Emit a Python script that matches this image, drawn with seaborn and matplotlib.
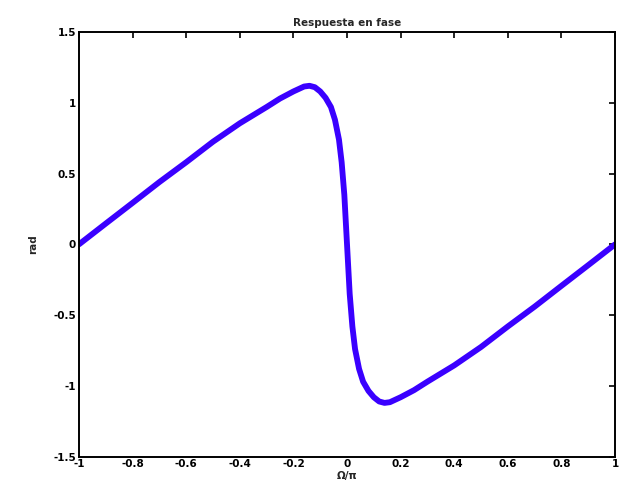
import matplotlib
matplotlib.use("Agg")
import matplotlib.pyplot as plt
import seaborn as sns
import pandas as pd

# Phase response samples, normalized frequency (Omega/pi) vs phase in rad
omega_norm = [-1.0, -0.9, -0.8, -0.7, -0.6, -0.5, -0.4, -0.3, -0.25, -0.2,
              -0.16, -0.14, -0.12, -0.1, -0.08, -0.06, -0.045, -0.03, -0.02,
              -0.01, 0.0, 0.01, 0.02, 0.03, 0.045, 0.06, 0.08, 0.1, 0.12,
              0.14, 0.16, 0.2, 0.25, 0.3, 0.4, 0.5, 0.6, 0.7, 0.8, 0.9, 1.0]
phase_rad = [0.0, 0.147, 0.293, 0.44, 0.58, 0.725, 0.855, 0.97, 1.03, 1.08,
             1.115, 1.12, 1.11, 1.08, 1.035, 0.97, 0.88, 0.74, 0.58,
             0.35, 0.0, -0.35, -0.58, -0.74, -0.88, -0.97, -1.035, -1.08, -1.11,
             -1.12, -1.115, -1.08, -1.03, -0.97, -0.855, -0.725, -0.58, -0.44,
             -0.293, -0.147, 0.0]

x_ticks = [-1, -0.8, -0.6, -0.4, -0.2, 0, 0.2, 0.4, 0.6, 0.8, 1]
y_ticks = [-1.5, -1, -0.5, 0, 0.5, 1, 1.5]

df = pd.DataFrame({"w": omega_norm, "phase": phase_rad})

sns.set_style("white")
plt.rcParams["font.family"] = ["DejaVu Sans"]

fig = plt.figure(figsize=(6.2, 5.0), dpi=100)
ax = fig.add_axes([0.1274, 0.0866, 0.8646, 0.8494])

sns.lineplot(data=df, x="w", y="phase", ax=ax, color="#3a00ff",
             linewidth=4.2, sort=False, solid_capstyle="round")

ax.set_xlim(-1, 1)
ax.set_ylim(-1.5, 1.5)
ax.set_xticks(x_ticks)
ax.set_yticks(y_ticks)
ax.set_xticklabels([f"{v:g}" for v in x_ticks])
ax.set_yticklabels([f"{v:g}" for v in y_ticks])

ax.tick_params(direction="in", length=4, width=1.2, top=True, right=True,
               labelsize=7.5, pad=2, colors="black")
for lbl in ax.get_xticklabels() + ax.get_yticklabels():
    lbl.set_fontweight("bold")
for side in ax.spines.values():
    side.set_visible(True)
    side.set_color("black")
    side.set_linewidth(1.4)

ax.set_title("Respuesta en fase", fontsize=7.5, fontweight="bold", pad=4)
ax.set_xlabel("\u03a9/\u03c0", fontsize=7.5, fontweight="bold", labelpad=1)
ax.set_ylabel("rad", fontsize=7.5, fontweight="bold", labelpad=11)

fig.savefig("out.png", dpi=100)
